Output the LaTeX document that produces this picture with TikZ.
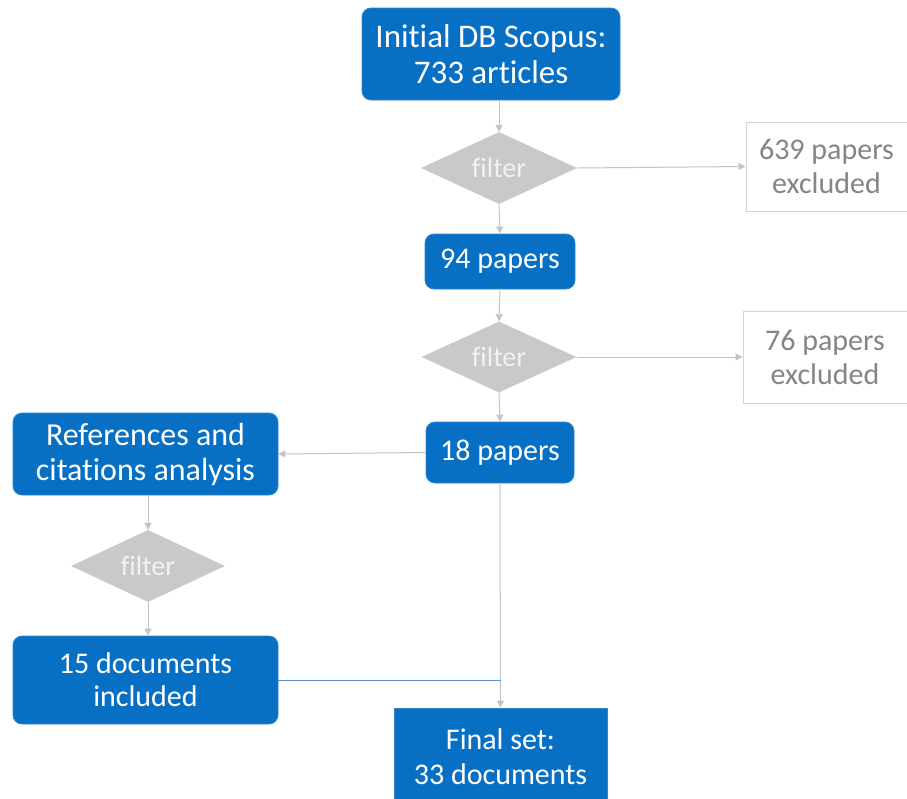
\documentclass[tikz,border=0pt]{standalone}
\usepackage{fontspec}
\setmainfont[Ligatures={NoCommon}]{Carlito}
\usetikzlibrary{shapes.geometric,arrows.meta}
\definecolor{boxblue}{HTML}{0870C4}
\definecolor{boxedge}{HTML}{2F86CC}
\definecolor{dia}{HTML}{C9C9C9}
\definecolor{diatext}{HTML}{F2F2F2}
\definecolor{linegrey}{HTML}{C4C4C4}
\definecolor{exedge}{HTML}{D4D4D4}
\definecolor{extext}{HTML}{858585}
\definecolor{joinblue}{HTML}{5F93C6}
\tikzset{
  bluebox/.style={fill=boxblue, draw=boxedge, line width=0.8pt, rounded corners=9pt,
    text=white, align=center, inner sep=0pt, font=\fontsize{30}{35}\selectfont},
  squarebox/.style={fill=boxblue, draw=boxedge, line width=0.8pt,
    text=white, align=center, inner sep=0pt, font=\fontsize{30}{35}\selectfont},
  exbox/.style={draw=exedge, line width=1pt, fill=white, text=extext, align=center,
    inner sep=0pt, font=\fontsize{30}{34}\selectfont},
  filterdia/.style={shape=diamond, fill=dia, draw=none, text=diatext, inner sep=0pt,
    font=\fontsize{28}{30}\selectfont},
  conn/.style={draw=linegrey, line width=1pt, -{Triangle[width=7pt,length=7pt]}},
  joinline/.style={draw=joinblue, line width=1pt}
}
\begin{document}
\begin{tikzpicture}[x=1pt,y=-1pt]
\clip (0,0) rectangle (907,798);
\fill[white] (0,0) rectangle (907,798);
% nodes
\node[bluebox, minimum width=258pt, minimum height=92pt, font=\fontsize{33}{36}\selectfont] (init) at (491,54) {Initial DB Scopus:\\733 articles};
\node[filterdia, minimum width=156pt, minimum height=72pt, aspect=2.17] (f1) at (499,168) {filter};
\node[exbox, minimum width=161pt, minimum height=89pt] (ex1) at (826.5,166.5) {639 papers\\excluded};
\node[bluebox, minimum width=150pt, minimum height=55pt] (p94) at (500,261.5) {94 papers};
\node[filterdia, minimum width=155pt, minimum height=71pt, aspect=2.18] (f2) at (499,357) {filter};
\node[exbox, minimum width=164pt, minimum height=92pt] (ex2) at (825,357) {76 papers\\excluded};
\node[bluebox, minimum width=148pt, minimum height=61pt] (p18) at (500,452.5) {18 papers};
\node[bluebox, minimum width=265pt, minimum height=82pt, font=\fontsize{32}{35}\selectfont] (refs) at (145.5,454) {References and\\citations analysis};
\node[filterdia, minimum width=154pt, minimum height=72pt, aspect=2.14] (f3) at (148,566) {filter};
\node[bluebox, minimum width=265pt, minimum height=88pt, font=\fontsize{30}{33}\selectfont] (d15) at (145.5,680) {15 documents\\included};
\node[squarebox, minimum width=213pt, minimum height=98pt] (final) at (500.5,757) {Final set:\\33 documents};
% connectors
\draw[conn] (f1.north |- init.south) -- (f1.north);
\draw[conn] (f1.south) -- (p94.north);
\draw[conn] (f1.east) -- (ex1.west);
\draw[conn] (p94.south) -- (f2.north);
\draw[conn] (f2.east) -- (ex2.west);
\draw[conn] (f2.south) -- (p18.north);
\draw[conn] (p18.west) -- (refs.east);
\draw[conn] (f3.north |- refs.south) -- (f3.north);
\draw[conn] (f3.south) -- (f3.south |- d15.north);
\draw[conn] (p18.south) -- (final.north);
\coordinate (jn) at (final.north |- d15.east);
\draw[joinline] (d15.east) -- (jn);
\end{tikzpicture}
\end{document}
